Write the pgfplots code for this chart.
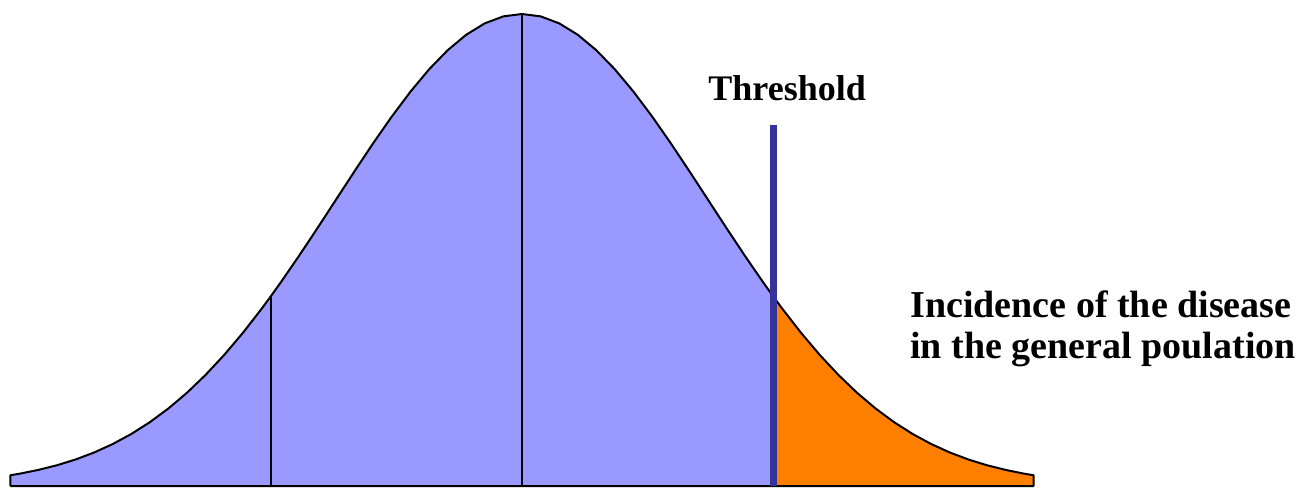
\documentclass[border=0pt]{standalone}
\usepackage{pgfplots}
\pgfplotsset{compat=1.18}
\usepackage{fontspec}
\setmainfont{Liberation Serif}
\definecolor{lav}{HTML}{9999FF}
\definecolor{org}{HTML}{FF8000}
\definecolor{thr}{HTML}{333399}
\begin{document}
\begin{tikzpicture}
\begin{axis}[
  scale only axis, width=652pt, height=244pt,
  xmin=-2.806, xmax=4.204, ymin=-0.0042, ymax=1.0297,
  hide axis, clip=false,
]
% invisible frame to fix the picture size
\addplot[draw=none, forget plot] coordinates {(-2.806,-0.0042) (4.204,1.0297)};
% blue part of the curve
\addplot[fill=lav, draw=none] coordinates {
(-2.75,0.02280) (-2.7,0.02612) (-2.6,0.03405) (-2.5,0.04394) (-2.4,0.05613) (-2.3,0.07101)
(-2.2,0.08892) (-2.1,0.11025) (-2.0,0.13534) (-1.9,0.16448) (-1.8,0.19790) (-1.7,0.23575)
(-1.6,0.27804) (-1.5,0.32465) (-1.4,0.37531) (-1.35,0.40202) (-1.3,0.42956) (-1.2,0.48675)
(-1.1,0.54607) (-1.0,0.60653) (-0.9,0.66698) (-0.8,0.72615) (-0.7,0.78270) (-0.6,0.83527)
(-0.5,0.88250) (-0.4,0.92312) (-0.3,0.95600) (-0.2,0.98020) (-0.1,0.99501) (0,1)
(0.1,0.99501) (0.2,0.98020) (0.3,0.95600) (0.4,0.92312) (0.5,0.88250) (0.6,0.83527)
(0.7,0.78270) (0.8,0.72615) (0.9,0.66698) (1.0,0.60653) (1.1,0.54607) (1.2,0.48675)
(1.3,0.42956) (1.35,0.40202)
} \closedcycle;
% orange tail
\addplot[fill=org, draw=none] coordinates {
(1.35,0.40202) (1.4,0.37531) (1.5,0.32465) (1.6,0.27804) (1.7,0.23575) (1.8,0.19790)
(1.9,0.16448) (2.0,0.13534) (2.1,0.11025) (2.2,0.08892) (2.3,0.07101) (2.4,0.05613)
(2.5,0.04394) (2.6,0.03405) (2.7,0.02612) (2.75,0.02280)
} \closedcycle;
% outline
\addplot[black, line width=1pt, line join=round] coordinates {
(-2.75,0) (-2.75,0.02280) (-2.7,0.02612) (-2.6,0.03405) (-2.5,0.04394) (-2.4,0.05613) (-2.3,0.07101)
(-2.2,0.08892) (-2.1,0.11025) (-2.0,0.13534) (-1.9,0.16448) (-1.8,0.19790) (-1.7,0.23575)
(-1.6,0.27804) (-1.5,0.32465) (-1.4,0.37531) (-1.35,0.40202) (-1.3,0.42956) (-1.2,0.48675)
(-1.1,0.54607) (-1.0,0.60653) (-0.9,0.66698) (-0.8,0.72615) (-0.7,0.78270) (-0.6,0.83527)
(-0.5,0.88250) (-0.4,0.92312) (-0.3,0.95600) (-0.2,0.98020) (-0.1,0.99501) (0,1)
(0.1,0.99501) (0.2,0.98020) (0.3,0.95600) (0.4,0.92312) (0.5,0.88250) (0.6,0.83527)
(0.7,0.78270) (0.8,0.72615) (0.9,0.66698) (1.0,0.60653) (1.1,0.54607) (1.2,0.48675)
(1.3,0.42956) (1.35,0.40202) (1.4,0.37531) (1.5,0.32465) (1.6,0.27804) (1.7,0.23575) (1.8,0.19790)
(1.9,0.16448) (2.0,0.13534) (2.1,0.11025) (2.2,0.08892) (2.3,0.07101) (2.4,0.05613)
(2.5,0.04394) (2.6,0.03405) (2.7,0.02612) (2.75,0.02280) (2.75,0) (-2.75,0)
};
% vertical lines
\addplot[black, line width=0.8pt] coordinates {(0,0) (0,1)};
\addplot[black, line width=0.8pt] coordinates {(-1.35,0) (-1.35,0.40202)};
\addplot[thr, line width=3.5pt] coordinates {(1.35,0) (1.35,0.765)};
% labels
\node[anchor=base west, inner sep=0pt, font=\fontsize{18}{21}\selectfont\bfseries] at (axis cs:1.0,0.8157) {Threshold};
\node[anchor=base west, inner sep=0pt, font=\fontsize{19}{22}\selectfont\bfseries] at (axis cs:2.086,0.356) {Incidence of the disease};
\node[anchor=base west, inner sep=0pt, font=\fontsize{19}{22}\selectfont\bfseries] at (axis cs:2.086,0.271) {in the general poulation};
\end{axis}
\end{tikzpicture}
\end{document}
